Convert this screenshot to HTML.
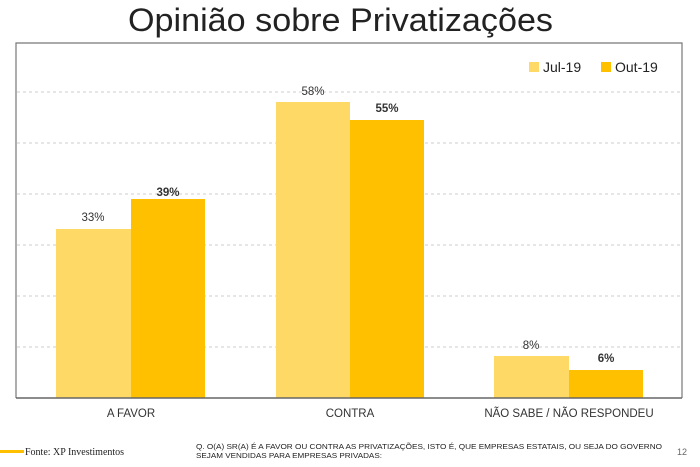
<!DOCTYPE html><html><head><meta charset="utf-8"><style>
body{margin:0;width:700px;height:462px;background:#fff;overflow:hidden;font-family:"Liberation Sans",sans-serif}
</style></head><body>
<svg width="700" height="462" xmlns="http://www.w3.org/2000/svg" font-family="Liberation Sans, sans-serif">
<text x="128" y="31" textLength="425" lengthAdjust="spacingAndGlyphs" font-size="32" fill="#222">Opinião sobre Privatizações</text>
<polyline points="16,398 16,43 682,43 682,398" fill="none" stroke="#777" stroke-width="1.2"/>
<g stroke="#ccc" stroke-dasharray="3,3" stroke-width="1">
<line x1="17" x2="681" y1="92" y2="92"/><line x1="17" x2="681" y1="143" y2="143"/>
<line x1="17" x2="681" y1="194" y2="194"/><line x1="17" x2="681" y1="245" y2="245"/>
<line x1="17" x2="681" y1="296" y2="296"/><line x1="17" x2="681" y1="347" y2="347"/>
</g>
<rect x="56" y="229" width="75" height="169" fill="#FFD966"/>
<rect x="131" y="199" width="74" height="199" fill="#FFC000"/>
<rect x="276" y="102" width="74" height="296" fill="#FFD966"/>
<rect x="350" y="120" width="74" height="278" fill="#FFC000"/>
<rect x="494" y="356" width="75" height="42" fill="#FFD966"/>
<rect x="569" y="370" width="74" height="28" fill="#FFC000"/>
<line x1="16" x2="682" y1="398" y2="398" stroke="#666" stroke-width="1.5"/>
<g font-size="11.5" fill="#333" text-anchor="middle">
<text x="93" y="221">33%</text><text x="168" y="196" font-weight="bold">39%</text>
<text x="313" y="95">58%</text><text x="387" y="112" font-weight="bold">55%</text>
<text x="531" y="349">8%</text><text x="606" y="362" font-weight="bold">6%</text>
<text x="131" y="417">A FAVOR</text><text x="350" y="417">CONTRA</text><text x="569" y="417">NÃO SABE / NÃO RESPONDEU</text>
</g>
<rect x="529" y="62" width="10" height="10" fill="#FFD966"/>
<text x="543" y="72" font-size="14" fill="#222">Jul-19</text>
<rect x="601" y="62" width="10" height="10" fill="#FFC000"/>
<text x="615" y="72" font-size="14" fill="#222">Out-19</text>
<rect x="0" y="450" width="24" height="3" fill="#FFC000"/>
<text x="25" y="455" font-size="10" font-family="Liberation Serif, serif" fill="#222">Fonte: XP Investimentos</text>
<text x="196" y="449" font-size="7.5" textLength="466" lengthAdjust="spacingAndGlyphs" fill="#222">Q. O(A) SR(A) É A FAVOR OU CONTRA AS PRIVATIZAÇÕES, ISTO É, QUE EMPRESAS ESTATAIS, OU SEJA DO GOVERNO</text>
<text x="196" y="458" font-size="7.5" textLength="186" lengthAdjust="spacingAndGlyphs" fill="#222">SEJAM VENDIDAS PARA EMPRESAS PRIVADAS:</text>
<text x="677" y="455" font-size="9" fill="#666">12</text>
</svg></body></html>
